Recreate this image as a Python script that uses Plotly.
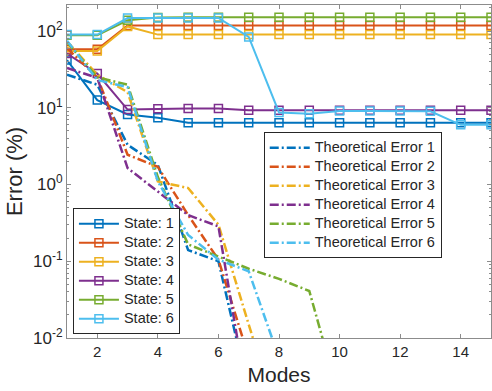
import plotly.graph_objects as go

modes = list(range(1, 16))

state1 = [42, 12.6, 8.2, 7.4, 6.4, 6.4, 6.4, 6.4, 6.4, 6.4, 6.4, 6.4, 6.4, 6.4, 6.4]
state2 = [58, 58, 118, 118, 118, 118, 118, 118, 118, 118, 118, 118, 118, 118, 118]
state3 = [55, 55, 115, 90, 90, 90, 90, 90, 90, 90, 90, 90, 90, 90, 90]
state4 = [51, 28, 9.5, 9.7, 9.8, 9.8, 9.3, 9.3, 9.3, 9.3, 9.3, 9.3, 9.3, 9.3, 9.3]
state5 = [88, 88, 138, 150, 152, 152, 152, 152, 152, 152, 152, 152, 152, 152, 152]
state6 = [90, 90, 148, 148, 148, 148, 84, 8.7, 8.4, 9.1, 9.1, 9.1, 9.0, 6.0, 6.0]

theo1 = [27, 20, 3.3, 1.8, 0.14, 0.1, 0.002]
theo2 = [60, 25, 2.45, 1.7, 0.4, 0.105, 0.0056]
theo3 = [73, 27, 16, 1.1, 0.9, 0.3, 0.015, 0.0008]
theo4 = [33, 24.6, 1.64, 0.8, 0.4, 0.285, 0.0013]
theo5 = [72, 25, 20, 1.25, 0.166, 0.116, 0.08, 0.059, 0.041, 0.0016]
theo6 = [75, 23, 18.6, 1.1, 0.22, 0.105, 0.074, 0.0055]

colors = ["#0072BD", "#D95319", "#EDB120", "#7E2F8E", "#77AC30", "#4DBEEE"]
states = [state1, state2, state3, state4, state5, state6]
theos = [theo1, theo2, theo3, theo4, theo5, theo6]

ytickvals = [0.01, 0.1, 1, 10, 100]
yticktext = ["10<sup>-2</sup>", "10<sup>-1</sup>", "10<sup>0</sup>", "10<sup>1</sup>", "10<sup>2</sup>"]
yminorvals = [m * d for d in (0.01, 0.1, 1, 10) for m in range(2, 10)] + [200]
xtickvals = [2, 4, 6, 8, 10, 12, 14]

def big(s):
    return f'<span style="font-size:14.5px">{s}</span>'

fig = go.Figure()
for i, (s, c) in enumerate(zip(states, colors)):
    fig.add_trace(go.Scatter(
        x=modes, y=s, mode="lines+markers", name=big(f"State: {i+1}"),
        line=dict(color=c, width=2),
        marker=dict(symbol="square-open", size=8, color=c, line=dict(width=1.5, color=c)),
        legend="legend",
    ))
for i, (t, c) in enumerate(zip(theos, colors)):
    fig.add_trace(go.Scatter(
        x=modes[:len(t)], y=t, mode="lines", name=big(f"Theoretical Error {i+1}"),
        line=dict(color=c, width=2.5, dash="9px,3px,2px,3px"),
        legend="legend2",
    ))

axis_color = "#8c8c8c"
fig.update_layout(
    width=492, height=391,
    margin=dict(l=67, r=1, t=5, b=53),
    plot_bgcolor="white", paper_bgcolor="white",
    font=dict(family="Liberation Sans, Arial, sans-serif", color="#262626", size=14),
    showlegend=True,
    legend=dict(
        x=0.014, y=0.39, xanchor="left", yanchor="top",
        bgcolor="white", bordercolor="#262626", borderwidth=1,
        font=dict(size=10.5, color="#262626"), tracegroupgap=0,
        itemwidth=40,
    ),
    legend2=dict(
        x=0.464, y=0.618, xanchor="left", yanchor="top",
        bgcolor="white", bordercolor="#262626", borderwidth=1,
        font=dict(size=10.5, color="#262626"), tracegroupgap=0,
        itemwidth=40,
    ),
)
fig.update_xaxes(
    range=[1, 15], tickvals=xtickvals, ticks="inside", ticklen=4,
    tickcolor=axis_color, showline=True, linecolor=axis_color, linewidth=1,
    mirror="allticks", showgrid=False, zeroline=False,
    tickfont=dict(size=15, color="#262626"),
    title=dict(text="Modes", font=dict(size=21, color="#262626"), standoff=8),
)
fig.update_yaxes(
    type="log", range=[-2, 2.34], tickvals=ytickvals, ticktext=yticktext,
    ticks="inside", ticklen=4, tickcolor=axis_color,
    showline=True, linecolor=axis_color, linewidth=1, mirror="allticks",
    showgrid=False, zeroline=False,
    minor=dict(tickmode="array", tickvals=yminorvals, ticks="inside", ticklen=2,
               tickcolor=axis_color, showgrid=False),
    tickfont=dict(size=17, color="#262626"),
    title=dict(text="Error (%)", font=dict(size=22, color="#262626"), standoff=4),
)

fig.write_html("out.html")
